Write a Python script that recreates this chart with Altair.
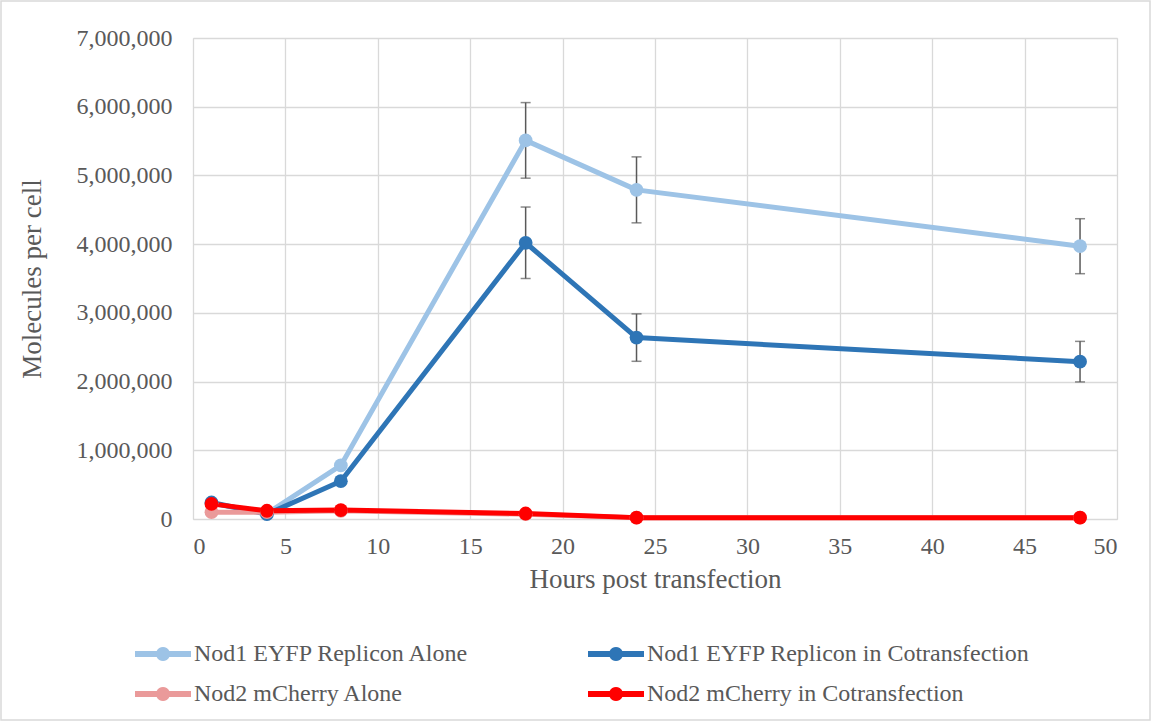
import altair as alt
import pandas as pd

hours = [1, 4, 8, 18, 24, 48]
series_names = [
    "Nod1 EYFP Replicon Alone",
    "Nod1 EYFP Replicon in Cotransfection",
    "Nod2 mCherry Alone",
    "Nod2 mCherry in Cotransfection",
]
nod1_alone = [230000, 80000, 780000, 5510000, 4790000, 3970000]
nod1_cotrans = [240000, 70000, 550000, 4020000, 2640000, 2290000]
nod2_alone = [100000, 100000, 120000, 70000, 20000, 20000]
nod2_cotrans = [220000, 120000, 130000, 80000, 20000, 20000]

err_hours = [18, 24, 48]
nod1_alone_err = [550000, 480000, 400000]
nod1_cotrans_err = [520000, 345000, 295000]

colors = ["#9DC3E6", "#2E75B6", "#EA9A9A", "#FF0000"]

rows = []
for name, vals in zip(series_names, [nod1_alone, nod1_cotrans, nod2_alone, nod2_cotrans]):
    for h, v in zip(hours, vals):
        rows.append({"series": name, "hours": h, "value": v})
df = pd.DataFrame(rows)

err_rows = []
for name, vals, errs in [
    (series_names[0], nod1_alone, nod1_alone_err),
    (series_names[1], nod1_cotrans, nod1_cotrans_err),
]:
    for h, e in zip(err_hours, errs):
        v = vals[hours.index(h)]
        err_rows.append({"series": name, "hours": h, "lo": v - e, "hi": v + e})
edf = pd.DataFrame(err_rows)

FONT = "'Liberation Serif', 'Times New Roman', Times, serif"
GRAY = "#595959"

xscale = alt.Scale(domain=[0, 50], nice=False, zero=False)
yscale = alt.Scale(domain=[0, 7000000], nice=False)

xax = alt.Axis(
    values=list(range(0, 51, 5)), title="Hours post transfection", grid=True,
    gridColor="#D9D9D9", gridWidth=1.3, domain=False, ticks=False,
    labelFont=FONT, labelFontSize=24, labelColor=GRAY, labelPadding=15,
    titleFont=FONT, titleFontSize=27, titleColor=GRAY, titleFontWeight="normal", titlePadding=8,
)
yax = alt.Axis(
    values=list(range(0, 7000001, 1000000)), title="Molecules per cell", format=",d",
    grid=True, gridColor="#D9D9D9", gridWidth=1.3, domain=False, ticks=False,
    labelFont=FONT, labelFontSize=24, labelColor=GRAY, labelPadding=21,
    titleFont=FONT, titleFontSize=27, titleColor=GRAY, titleFontWeight="normal", titlePadding=30,
)

color_scale = alt.Scale(domain=series_names, range=colors)

legend_path = (
    "M-1,-0.107 L-0.226,-0.107 A0.25,0.25 0 0,1 0.226,-0.107 L1,-0.107 L1,0.107 "
    "L0.226,0.107 A0.25,0.25 0 0,1 -0.226,0.107 L-1,0.107 Z"
)

legend = alt.Legend(
    title=None, orient="none", legendX=-58, legendY=588, columns=2, direction="horizontal",
    symbolType=legend_path, symbolSize=3136, symbolStrokeWidth=0,
    labelFont=FONT, labelFontSize=24, labelColor=GRAY, labelLimit=600,
    columnPadding=118, rowPadding=-16, labelOffset=3, gridAlign="each",
)

base = alt.Chart(df)

lines = base.mark_line(strokeWidth=5, strokeCap="round", strokeJoin="round").encode(
    x=alt.X("hours:Q", scale=xscale, axis=xax),
    y=alt.Y("value:Q", scale=yscale, axis=yax),
    color=alt.Color("series:N", scale=color_scale, legend=legend),
    detail="series:N",
)

points = base.mark_point(filled=True, size=190, opacity=1, shape="circle").encode(
    x="hours:Q",
    y="value:Q",
    color=alt.Color("series:N", scale=color_scale, legend=legend),
)

errbars = alt.Chart(edf).mark_errorbar(
    ticks=alt.MarkConfig(size=10), thickness=1.5, color="#595959"
).encode(
    x="hours:Q",
    y=alt.Y("lo:Q", title="Molecules per cell"),
    y2="hi:Q",
)

border = alt.Chart(pd.DataFrame({"a": [0]})).mark_rect(
    filled=False, stroke="#D9D9D9", strokeWidth=1.5
).encode(
    x=alt.value(-192), x2=alt.value(957), y=alt.value(-37), y2=alt.value(682)
)

chart = alt.layer(lines, errbars, points, border).properties(
    width=924, height=481,
    autosize=alt.AutoSizeParams(type="none"),
    padding={"left": 193, "top": 38, "right": 35, "bottom": 207},
).configure_view(stroke=None).configure(background="white")

chart.save("out.html", embed_options={"renderer": "svg", "actions": False})
